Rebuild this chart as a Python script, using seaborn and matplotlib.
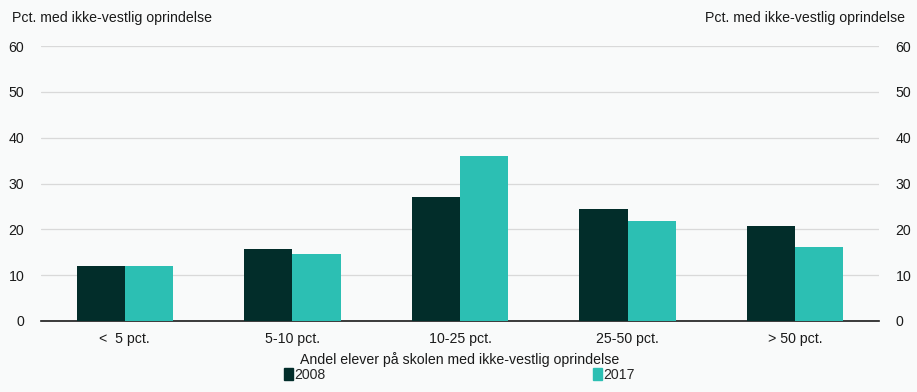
import numpy as np
import pandas as pd
import seaborn as sns
import matplotlib.pyplot as plt
from matplotlib.patches import Patch

# ─── DATA ─────────────────────────────────────────────────────────────────────
categories = ["<  5 pct.", "5-10 pct.", "10-25 pct.", "25-50 pct.", "> 50 pct."]
years = ["2008", "2017"]
values_2008 = [12.0, 15.7, 27.1, 24.4, 20.7]
values_2017 = [11.9, 14.6, 36.0, 21.8, 16.1]
y_ticks = [0, 10, 20, 30, 40, 50, 60]

BG = "#f9fafa"
COLORS = {"2008": "#022d2a", "2017": "#2cbfb3"}
FS = 10.2

df = pd.DataFrame({
    "kategori": categories * 2,
    "aar": [years[0]] * len(categories) + [years[1]] * len(categories),
    "pct": values_2008 + values_2017,
})

sns.set_style("white")
plt.rcParams["font.family"] = ["Liberation Sans", "DejaVu Sans"]

fig = plt.figure(figsize=(9.17, 3.92), dpi=100, facecolor=BG)
ax = fig.add_axes([41 / 917, 1 - 321 / 392, 838 / 917, 275 / 392])
ax.set_facecolor(BG)

sns.barplot(data=df, x="kategori", y="pct", hue="aar", palette=COLORS,
            width=0.574, saturation=1, ax=ax, legend=False, zorder=3,
            linewidth=0)

ax.set_xlim(-0.5, len(categories) - 0.5)
ax.set_ylim(0, 60)
ax.set_yticks(y_ticks)
ax.grid(axis="y", color="#d9d9d9", linewidth=0.9, zorder=0)
ax.tick_params(axis="y", length=0, labelsize=FS, pad=12, colors="#1a1a1a")
ax.tick_params(axis="x", length=0, labelsize=FS, pad=8, colors="#1a1a1a")
ax.set_xticks(np.arange(-0.5, len(categories)), minor=True)
ax.tick_params(axis="x", which="minor", length=4, width=0.8, color="#1a1a1a")
for s in ["top", "right", "left"]:
    ax.spines[s].set_visible(False)
ax.spines["bottom"].set_color("#1a1a1a")
ax.spines["bottom"].set_linewidth(1.2)
ax.set_ylabel("")
ax.set_xlabel("Andel elever på skolen med ikke-vestlig oprindelse",
              fontsize=FS, labelpad=4, color="#1a1a1a")

ax2 = ax.twinx()
ax2.set_ylim(ax.get_ylim())
ax2.set_yticks(y_ticks)
ax2.tick_params(axis="y", length=0, labelsize=FS, pad=12, colors="#1a1a1a")
for s in ["top", "right", "left", "bottom"]:
    ax2.spines[s].set_visible(False)

fig.text(12 / 917, 1 - 18 / 392, "Pct. med ikke-vestlig oprindelse",
         fontsize=FS, ha="left", va="center", color="#1a1a1a")
fig.text(905 / 917, 1 - 18 / 392, "Pct. med ikke-vestlig oprindelse",
         fontsize=FS, ha="right", va="center", color="#1a1a1a")

# legend, two entries spread wide
for yr, xpos in zip(years, [284 / 917, 593 / 917]):
    leg = fig.legend(handles=[Patch(color=COLORS[yr], label=yr)],
                     loc="center left", bbox_to_anchor=(xpos, 1 - 375 / 392),
                     frameon=False, fontsize=FS, handlelength=0.6,
                     handleheight=0.9, handletextpad=0.15, borderpad=0,
                     borderaxespad=0)

fig.savefig("out.png", dpi=100, facecolor=BG)
